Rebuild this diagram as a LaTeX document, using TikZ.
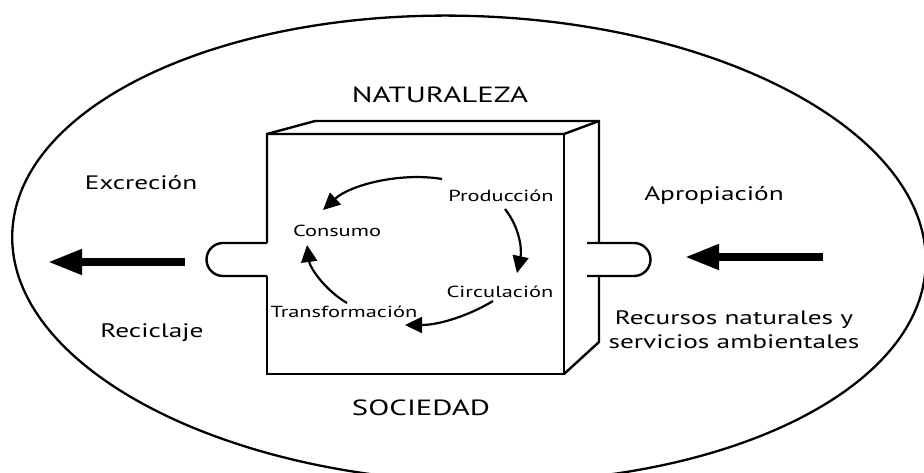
\documentclass[tikz,border=0pt]{standalone}
\usepackage{fontspec}
\setmainfont{PT Sans}[FakeStretch=1.4]
\usetikzlibrary{arrows.meta}
\begin{document}
\begin{tikzpicture}[x=1pt,y=-1pt,
  lbl/.style={inner sep=0pt, font=\fontsize{19.5}{24}\selectfont},
  cyc/.style={inner sep=0pt, font=\fontsize{16}{18}\selectfont},
  big/.style={inner sep=0pt, font=\fontsize{22}{26}\selectfont},
  boxline/.style={line width=2.4pt, line join=miter},
  cycarrow/.style={line width=2.2pt, -{Triangle[length=17pt,width=16pt]}},
  fatarrow/.style={line width=7.5pt, -{Triangle[length=34pt,width=24pt]}}
]
\useasboundingbox (0,0) rectangle (924,472);
\fill[white] (0,0) rectangle (924,472);
% outer ellipse
\draw[line width=2.3pt, rotate around={-2:(469,249)}] (469,249) ellipse [x radius=457, y radius=233];
% box
\draw[boxline] (267,243) -- (267,134) -- (315,121) -- (599,121) -- (599,243);
\draw[boxline] (267,134) -- (564,134) -- (599,121);
\draw[boxline] (564,134) -- (564,374) -- (267,374) -- (267,276);
\draw[boxline] (564,374) -- (599,342) -- (599,276);
% tabs
\draw[boxline] (267,243) -- (223,243) arc[start angle=270, end angle=90, radius=16.5] -- (267,276);
\draw[boxline] (587,243) -- (634,243) arc[start angle=270, end angle=450, radius=16.5] -- (587,276);
% labels
\node[big] (nat) at (440,95) {NATURALEZA};
\node[big] (soc) at (421,408) {SOCIEDAD};
\node[lbl] (exc) at (141,183) {Excreción};
\node[lbl] (rec) at (152,333) {Reciclaje};
\node[lbl] (apr) at (714,195) {Apropiación};
\node[lbl, align=center] (rn) at (734,330) {Recursos naturales y\\servicios ambientales};
\node[cyc] (prod) at (501,196) {Producción};
\node[cyc] (circ) at (500,292) {Circulación};
\node[cyc] (cons) at (337,231) {Consumo};
\node[cyc] (trans) at (344,312) {Transformación};
% cycle arrows
\coordinate (a1s) at (442,179); \coordinate (a1e) at (323,210);
\coordinate (a2s) at (505,209); \coordinate (a2e) at (517,273);
\coordinate (a3s) at (493,301); \coordinate (a3e) at (405,325);
\coordinate (a4s) at (347,303); \coordinate (a4e) at (307,245);
\draw[cycarrow] (a1s) .. controls (400,172) and (350,185) .. (a1e);
\draw[cycarrow] (a2s) .. controls (520,228) and (522,250) .. (a2e);
\draw[cycarrow] (a3s) .. controls (470,315) and (440,325) .. (a3e);
\draw[cycarrow] (a4s) .. controls (325,290) and (310,268) .. (a4e);
% fat arrows
\coordinate (ls) at (185,262); \coordinate (lt) at (48,262);
\coordinate (rs) at (823,257); \coordinate (rt) at (685,257);
\draw[fatarrow] (ls) -- (lt);
\draw[fatarrow] (rs) -- (rt);
\end{tikzpicture}
\end{document}
